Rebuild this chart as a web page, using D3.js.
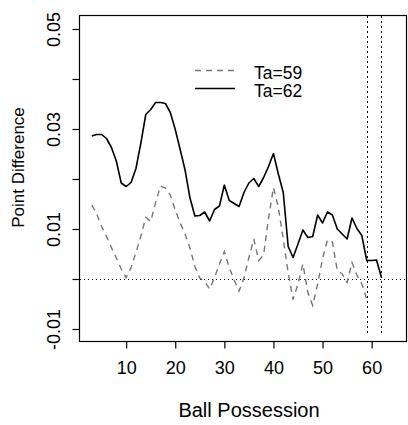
<!DOCTYPE html>
<html>
<head>
<meta charset="utf-8">
<script src="https://cdn.jsdelivr.net/npm/d3@7"></script>
<style>
  body { margin: 0; background: #fff; }
  text { font-family: "Liberation Sans", Arial, sans-serif; fill: #000; }
</style>
</head>
<body>
<svg id="chart" width="408" height="425"></svg>
<script>
// balbezit (x) per reeks
var possession59 = [3,4,5,6,7,8,9,10,11,12,13,14,15,16,17,18,19,20,21,22,23,24,25,26,27,28,29,30,
  31,32,33,34,35,36,37,38,39,40,41,42,43,44,45,46,47,48,49,50,51,52,53,54,55,56,57,58,59];
var possession62 = [3,4,5,6,7,8,9,10,11,12,13,14,15,16,17,18,19,20,21,22,23,24,25,26,27,28,29,30,
  31,32,33,34,35,36,37,38,39,40,41,42,43,44,45,46,47,48,49,50,51,52,53,54,55,56,57,58,59,60,61,62];

// puntverschil voor Ta=59 (gestreept) en Ta=62 (doorgetrokken)
var ta59 = [0.0148,0.0130,0.0105,0.0085,0.0063,0.0042,0.0020,0.0003,0.0023,0.0053,
  0.0086,0.0123,0.0115,0.0153,0.0186,0.0182,0.0168,0.0138,0.0112,0.0090,
  0.0062,0.0025,0.0002,-0.0005,-0.0020,0.0003,0.0030,0.0055,0.0023,-0.0002,
  -0.0024,0.0002,0.0043,0.0080,0.0037,0.0048,0.0122,0.0183,0.0143,0.0080,
  0.0013,-0.0041,-0.0010,0.0030,-0.0027,-0.0053,-0.0010,0.0040,0.0078,0.0074,
  0.0017,0.0010,-0.0007,0.0033,0.0008,-0.0010,-0.0040];
var ta62 = [0.0286,0.0289,0.0289,0.0281,0.0263,0.0236,0.0192,0.0185,0.0193,0.0221,
  0.0272,0.0329,0.0339,0.0353,0.0353,0.0351,0.0333,0.0299,0.0259,0.0218,
  0.0162,0.0126,0.0127,0.0134,0.0116,0.0139,0.0146,0.0188,0.0157,0.0151,
  0.0145,0.0173,0.0192,0.0201,0.0185,0.0203,0.0225,0.0251,0.0210,0.0173,
  0.0065,0.0043,0.0070,0.0098,0.0083,0.0085,0.0128,0.0112,0.0134,0.0128,
  0.0100,0.0090,0.0080,0.0122,0.0101,0.0087,0.0037,0.0037,0.0038,0.0003];

// as-ticks en labels
var xTicks = [10, 20, 30, 40, 50, 60];
var yTicks = [-0.01, 0, 0.01, 0.02, 0.03, 0.04, 0.05];
var yLabels = ["-0.01", "", "0.01", "", "0.03", "", "0.05"];
var refLines = [59, 62];
var legendKeys = ["Ta=59", "Ta=62"];

var svg = d3.select("#chart"),
    margin = {top: 15.5, left: 79.5},
    width = 327,
    height = 326,
    g = svg.append("g").attr("transform", "translate(" + margin.left + "," + margin.top + ")");

var x = d3.scaleLinear().domain([0.5, 67.1]).range([0, width]);
var y = d3.scaleLinear().domain([-0.0125, 0.0527]).range([height, 0]);

// afronden op het midden van een pixel zodat stippellijnen scherp blijven
function crisp(v) { return Math.floor(v) + 0.5; }

var line = d3.line()
    .x(function(d) { return x(d[0]); })
    .y(function(d) { return y(d[1]); });

// stippellijnen: nul en de twee verticale lijnen
g.append("line")
    .attr("x1", 0.5).attr("x2", width)
    .attr("y1", crisp(y(0))).attr("y2", crisp(y(0)))
    .attr("stroke", "#000")
    .attr("shape-rendering", "crispEdges")
    .attr("stroke-dasharray", "1,3");

g.selectAll(".vref")
    .data(refLines)
    .enter().append("line")
    .attr("class", "vref")
    .attr("x1", function(d) { return crisp(x(d)); })
    .attr("x2", function(d) { return crisp(x(d)); })
    .attr("y1", 0.5).attr("y2", height - 6)
    .attr("stroke", "#000")
    .attr("shape-rendering", "crispEdges")
    .attr("stroke-dasharray", "2,3");

// de twee reeksen
g.append("path")
    .datum(d3.zip(possession59, ta59))
    .attr("d", line)
    .attr("fill", "none")
    .attr("stroke", "#767676")
    .attr("stroke-width", 1.4)
    .attr("stroke-dasharray", "6,5");

g.append("path")
    .datum(d3.zip(possession62, ta62))
    .attr("d", line)
    .attr("fill", "none")
    .attr("stroke", "#000")
    .attr("stroke-width", 1.6)
    .attr("stroke-linejoin", "round");

// kader
g.append("rect")
    .attr("width", width)
    .attr("height", height)
    .attr("fill", "none")
    .attr("stroke", "#000")
    .attr("stroke-width", 1.2);

// x-as
var xAxis = g.append("g")
    .attr("transform", "translate(0," + height + ")")
    .call(d3.axisBottom(x).tickValues(xTicks).tickSize(7).tickPadding(13).tickFormat(d3.format("d")));
xAxis.select(".domain").remove();
xAxis.selectAll("line").attr("stroke-width", 1.2);
xAxis.selectAll("text").attr("font-size", 18).attr("font-family", null);

// y-as met gedraaide labels
var yAxis = g.append("g")
    .call(d3.axisLeft(y).tickValues(yTicks).tickSize(7).tickFormat(function(d, i) { return yLabels[i]; }));
yAxis.select(".domain").remove();
yAxis.selectAll("line").attr("stroke-width", 1.2);
yAxis.selectAll("text")
    .attr("font-size", 18)
    .attr("font-family", null)
    .attr("x", null).attr("dy", null)
    .attr("text-anchor", "middle")
    .attr("transform", "translate(-19.5,0) rotate(-90)");

// as-titels
svg.append("text")
    .attr("x", 249)
    .attr("y", 416.5)
    .attr("text-anchor", "middle")
    .attr("font-size", 20)
    .text("Ball Possession");

svg.append("text")
    .attr("transform", "translate(24,167.5) rotate(-90)")
    .attr("text-anchor", "middle")
    .attr("font-size", 17)
    .text("Point Difference");

// legenda
var legend = svg.append("g")
    .selectAll("g")
    .data(legendKeys)
    .enter().append("g")
    .attr("transform", function(d, i) { return "translate(195," + (70.5 + i * 18) + ")"; });

legend.append("line")
    .attr("x1", 0).attr("x2", 40)
    .attr("stroke", function(d, i) { return i === 0 ? "#767676" : "#000"; })
    .attr("stroke-width", function(d, i) { return i === 0 ? 1.4 : 1.6; })
    .attr("stroke-dasharray", function(d, i) { return i === 0 ? "6,5" : null; });

legend.append("text")
    .attr("x", 59)
    .attr("y", 8.4)
    .attr("font-size", 17.5)
    .text(function(d) { return d; });
</script>
</body>
</html>
